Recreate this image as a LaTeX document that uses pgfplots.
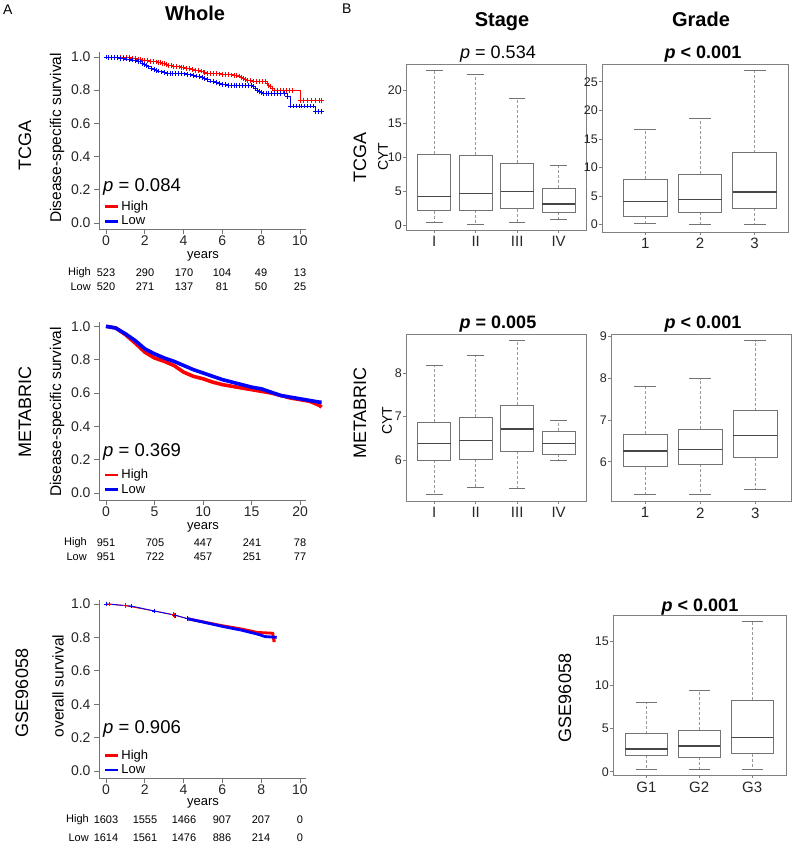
\documentclass[border=0pt]{standalone}
\usepackage{fontspec}
\setmainfont{Liberation Sans}
\usepackage{pgfplots}
\pgfplotsset{compat=1.18}
\usepgfplotslibrary{statistics}
\newcommand{\fs}[1]{\fontsize{#1}{#1}\selectfont}
\definecolor{kmred}{RGB}{255,0,0}
\definecolor{kmblue}{RGB}{0,0,255}
\pgfplotsset{
 km/.style={scale only axis, anchor=south west, axis lines*=left,
  axis line style={-, draw=black!55, line width=0.8pt},
  tick align=outside, major tick length=5pt, tick style={draw=black!55, line width=0.8pt},
  ytick={0,0.2,0.4,0.6,0.8,1.0},
  yticklabel style={/pgf/number format/.cd, fixed, fixed zerofill, precision=1},
  /pgf/number format/assume math mode=true,
  ticklabel style={font=\fs{14}, text=black!85},
  xticklabel style={yshift=2pt},
  clip=false, width=207pt,
  legend style={draw=none, fill=none, font=\fs{13}, anchor=north west, inner sep=0pt, cells={anchor=west}},
  legend image code/.code={\draw[##1, line width=2.6pt] (0pt,0pt) -- (13pt,0pt);},
 },
 bx/.style={scale only axis, anchor=south west,
  axis line style={draw=black!50, line width=0.8pt},
  tick align=outside, major tick length=3pt, tick style={draw=black!50, line width=0.6pt}, tick pos=left,
  yticklabel style={font=\fs{12.5}, inner sep=1pt, text=black!85},
  xticklabel style={font=\fs{15}, text=black!85},
  /pgf/number format/assume math mode=true,
  clip=false,
  boxplot/draw direction=y,
  boxplot/box extend=0.8, boxplot/whisker extend=0.4,
  boxplot/draw/median/.code={
   \draw[draw=black!72, line width=1.4pt] (boxplot box cs:\pgfplotsboxplotvalue{median},0) -- (boxplot box cs:\pgfplotsboxplotvalue{median},1);
  },
  boxplot/draw/lower whisker/.code={
   \draw[densely dashed, draw=black!40, line width=0.6pt] (boxplot box cs:\pgfplotsboxplotvalue{lower quartile},0.5) -- (boxplot box cs:\pgfplotsboxplotvalue{lower whisker},0.5);
   \draw[draw=black!55, line width=0.7pt] (boxplot whisker cs:\pgfplotsboxplotvalue{lower whisker},0) -- (boxplot whisker cs:\pgfplotsboxplotvalue{lower whisker},1);
  },
  boxplot/draw/upper whisker/.code={
   \draw[densely dashed, draw=black!40, line width=0.6pt] (boxplot box cs:\pgfplotsboxplotvalue{upper quartile},0.5) -- (boxplot box cs:\pgfplotsboxplotvalue{upper whisker},0.5);
   \draw[draw=black!55, line width=0.7pt] (boxplot whisker cs:\pgfplotsboxplotvalue{upper whisker},0) -- (boxplot whisker cs:\pgfplotsboxplotvalue{upper whisker},1);
  },
 },
 bp/.style={draw=black!55, line width=0.7pt, solid},
 kmthin/.style={const plot, color=#1, line width=0.9pt, mark=+, mark size=2.4pt, mark options={solid, line width=0.9pt, draw=#1, color=#1}, forget plot},
 kmsmooth/.style={sharp plot, color=#1, line width=0.9pt, mark=+, mark size=2.4pt, mark options={solid, line width=0.9pt, draw=#1, color=#1}, forget plot},
}
\begin{document}
\begin{tikzpicture}
\path[use as bounding box] (0pt,0pt) rectangle (793pt,850pt);

% ---------------- A: TCGA KM ----------------
\begin{axis}[km, at={(99pt,621pt)}, height=177pt,
  xmin=-0.36, xmax=10.31, ymin=-0.036, ymax=1.03, xtick={0,2,4,6,8,10},
  legend style={at={(axis cs:-0.12,0.145)}}]
\addplot[kmthin=kmred] coordinates {(0,1)(0.15,1)(0.3,1)(0.45,1)(0.6,1)(0.75,0.998)(0.9,0.995)(1.05,0.995)(1.2,0.995)(1.35,0.992)(1.5,0.99)(1.65,0.988)(1.8,0.985)(1.9,0.982)(2.0,0.98)(2.15,0.978)(2.3,0.975)(2.45,0.972)(2.6,0.97)(2.7,0.968)(2.8,0.965)(2.9,0.962)(3.0,0.96)(3.1,0.955)(3.2,0.95)(3.35,0.948)(3.5,0.945)(3.65,0.942)(3.8,0.94)(3.9,0.938)(4.0,0.935)(4.15,0.932)(4.3,0.93)(4.45,0.925)(4.6,0.92)(4.75,0.918)(4.9,0.915)(5.0,0.91)(5.1,0.905)(5.25,0.902)(5.4,0.9)(5.55,0.9)(5.7,0.9)(5.85,0.898)(6.0,0.895)(6.15,0.895)(6.3,0.895)(6.45,0.892)(6.6,0.89)(6.75,0.888)(6.9,0.885)(7.0,0.878)(7.1,0.87)(7.2,0.865)(7.3,0.86)(7.45,0.858)(7.6,0.855)(7.75,0.852)(7.9,0.85)(8.05,0.85)(8.2,0.85)(8.3,0.84)(8.4,0.83)(8.5,0.82)(8.6,0.81)(8.7,0.80)(8.85,0.80)(9.0,0.80)(9.15,0.80)(9.3,0.80)(9.45,0.80)(9.6,0.80)(10.0,0.74)(10.2,0.74)(10.4,0.74)(10.6,0.74)(10.8,0.74)(11.0,0.74)(11.1,0.74)};
\addplot[kmthin=kmblue] coordinates {(0,1)(0.15,0.998)(0.3,0.995)(0.45,0.995)(0.6,0.995)(0.75,0.992)(0.9,0.99)(1.05,0.988)(1.2,0.985)(1.35,0.982)(1.5,0.98)(1.65,0.975)(1.8,0.97)(1.9,0.962)(2.0,0.955)(2.1,0.948)(2.2,0.94)(2.35,0.932)(2.5,0.925)(2.6,0.92)(2.7,0.915)(2.85,0.91)(3.0,0.905)(3.15,0.902)(3.3,0.9)(3.45,0.9)(3.6,0.9)(3.75,0.9)(3.9,0.9)(4.05,0.898)(4.2,0.895)(4.35,0.892)(4.5,0.89)(4.65,0.885)(4.8,0.88)(4.95,0.875)(5.1,0.87)(5.25,0.862)(5.4,0.855)(5.55,0.85)(5.7,0.845)(5.85,0.84)(6.0,0.835)(6.15,0.832)(6.3,0.83)(6.45,0.83)(6.6,0.83)(6.75,0.83)(6.9,0.83)(7.05,0.83)(7.2,0.83)(7.35,0.83)(7.5,0.83)(7.6,0.82)(7.7,0.81)(7.8,0.80)(7.9,0.79)(8.0,0.785)(8.1,0.78)(8.25,0.78)(8.4,0.78)(8.55,0.78)(8.7,0.78)(8.85,0.78)(9.0,0.78)(9.2,0.78)(9.35,0.76)(9.5,0.705)(9.65,0.705)(9.8,0.705)(9.95,0.705)(10.1,0.705)(10.25,0.705)(10.4,0.705)(10.55,0.705)(10.7,0.705)(10.8,0.67)(10.95,0.67)(11.1,0.67)};
\addlegendimage{kmred}\addlegendentry{High}
\addlegendimage{kmblue}\addlegendentry{Low}
\end{axis}

% ---------------- A: METABRIC KM ----------------
\begin{axis}[km, at={(99pt,350pt)}, height=178pt,
  xmin=-0.72, xmax=20.6, ymin=-0.042, ymax=1.026, xtick={0,5,10,15,20},
  legend style={at={(axis cs:-0.25,0.155)}}]
\addplot[kmred, line width=3.6pt, forget plot] coordinates {(0,1)(1,0.99)(2,0.95)(3,0.90)(4,0.845)(5,0.81)(6,0.79)(7,0.765)(8,0.725)(9,0.70)(10,0.685)(11,0.665)(12,0.65)(13,0.64)(14,0.63)(15,0.62)(16,0.61)(17,0.60)(18,0.585)(19,0.57)(20,0.56)(21,0.55)(22,0.525)(22.2,0.515)};
\addplot[kmblue, line width=3.6pt, forget plot] coordinates {(0,1)(1,0.99)(2,0.955)(3,0.915)(4,0.865)(5,0.835)(6,0.81)(7,0.79)(8,0.765)(9,0.74)(10,0.72)(11,0.70)(12,0.68)(13,0.665)(14,0.65)(15,0.635)(16,0.625)(17,0.605)(18,0.585)(19,0.575)(20,0.565)(21,0.555)(22,0.545)(22.2,0.545)};
\addlegendimage{kmred}\addlegendentry{High}
\addlegendimage{kmblue}\addlegendentry{Low}
\end{axis}

% ---------------- A: GSE96058 KM ----------------
\begin{axis}[km, at={(99pt,72pt)}, height=178pt,
  xmin=-0.36, xmax=10.31, ymin=-0.042, ymax=1.024, xtick={0,2,4,6,8,10},
  legend style={at={(axis cs:-0.12,0.14)}}]
\addplot[kmsmooth=kmred] coordinates {(0,1)(0.2,1.0)(1.0,0.99)(2.5,0.958)(3.5,0.935)(3.55,0.933)(4.2,0.912)};
\addplot[kmred, line width=2.8pt, forget plot] coordinates {(4.2,0.912)(5,0.893)(6,0.87)(7,0.85)(7.8,0.83)(8.6,0.825)(8.65,0.78)(8.75,0.78)};
\addplot[kmsmooth=kmblue] coordinates {(0,1)(1.3,0.988)(2.5,0.958)(3.6,0.932)(4.2,0.912)};
\addplot[kmblue, line width=2.8pt, forget plot] coordinates {(4.2,0.912)(5,0.892)(6,0.866)(7,0.843)(7.8,0.82)(8.2,0.805)(8.8,0.80)};
\addlegendimage{kmred}\addlegendentry{High}
\addlegendimage{kmblue}\addlegendentry{Low}
\end{axis}

% ---------------- B: TCGA Stage ----------------
\begin{axis}[bx, at={(406pt,620pt)}, width=180pt, height=166pt,
  xmin=0.32, xmax=4.66, ymin=-0.74, ymax=23.85,
  xtick={1,2,3,4}, xticklabels={I,II,III,IV}, ytick={0,5,10,15,20}]
\addplot[bp, boxplot prepared={draw position=1, median=4.2, upper quartile=10.5, lower quartile=2.1, upper whisker=22.9, lower whisker=0.4}] coordinates {};
\addplot[bp, boxplot prepared={draw position=2, median=4.7, upper quartile=10.3, lower quartile=2.2, upper whisker=22.3, lower whisker=0.15}] coordinates {};
\addplot[bp, boxplot prepared={draw position=3, median=5.0, upper quartile=9.2, lower quartile=2.4, upper whisker=18.7, lower whisker=0.45}] coordinates {};
\addplot[bp, boxplot prepared={draw position=4, median=3.1, upper quartile=5.5, lower quartile=1.9, upper whisker=8.9, lower whisker=0.8}] coordinates {};
\end{axis}

% ---------------- B: TCGA Grade ----------------
\begin{axis}[bx, at={(602pt,618pt)}, width=186pt, height=168pt,
  xmin=0.21, xmax=3.61, ymin=-1.29, ymax=28.1,
  xtick={1,2,3}, xticklabels={1,2,3}, ytick={0,5,10,15,20,25}]
\addplot[bp, boxplot prepared={draw position=1, median=4.0, upper quartile=8.0, lower quartile=1.5, upper whisker=16.7, lower whisker=0.25}] coordinates {};
\addplot[bp, boxplot prepared={draw position=2, median=4.4, upper quartile=8.8, lower quartile=2.2, upper whisker=18.6, lower whisker=0.05}] coordinates {};
\addplot[bp, boxplot prepared={draw position=3, median=5.7, upper quartile=12.6, lower quartile=2.9, upper whisker=26.9, lower whisker=0.0}] coordinates {};
\end{axis}

% ---------------- B: METABRIC Stage ----------------
\begin{axis}[bx, at={(406pt,349pt)}, width=180pt, height=167pt,
  xmin=0.32, xmax=4.66, ymin=5.06, ymax=8.9,
  xtick={1,2,3,4}, xticklabels={I,II,III,IV}, ytick={6,7,8}]
\addplot[bp, boxplot prepared={draw position=1, median=6.38, upper quartile=6.87, lower quartile=6.0, upper whisker=8.18, lower whisker=5.22}] coordinates {};
\addplot[bp, boxplot prepared={draw position=2, median=6.45, upper quartile=6.99, lower quartile=6.02, upper whisker=8.42, lower whisker=5.38}] coordinates {};
\addplot[bp, boxplot prepared={draw position=3, median=6.72, upper quartile=7.26, lower quartile=6.2, upper whisker=8.75, lower whisker=5.34}] coordinates {};
\addplot[bp, boxplot prepared={draw position=4, median=6.38, upper quartile=6.67, lower quartile=6.14, upper whisker=6.92, lower whisker=5.99}] coordinates {};
\end{axis}

% ---------------- B: METABRIC Grade ----------------
\begin{axis}[bx, at={(611pt,349pt)}, width=180pt, height=167pt,
  xmin=0.38, xmax=3.65, ymin=5.06, ymax=9.06,
  xtick={1,2,3}, xticklabels={1,2,3}, ytick={6,7,8,9}]
\addplot[bp, boxplot prepared={draw position=1, median=6.26, upper quartile=6.66, lower quartile=5.88, upper whisker=7.8, lower whisker=5.22}] coordinates {};
\addplot[bp, boxplot prepared={draw position=2, median=6.3, upper quartile=6.78, lower quartile=5.94, upper whisker=7.99, lower whisker=5.22}] coordinates {};
\addplot[bp, boxplot prepared={draw position=3, median=6.63, upper quartile=7.22, lower quartile=6.1, upper whisker=8.9, lower whisker=5.34}] coordinates {};
\end{axis}

% ---------------- B: GSE96058 Grade ----------------
\begin{axis}[bx, at={(613pt,75pt)}, width=173pt, height=160pt,
  xmin=0.37, xmax=3.64, ymin=-0.38, ymax=18.08,
  xtick={1,2,3}, xticklabels={G1,G2,G3}, ytick={0,5,10,15}]
\addplot[bp, boxplot prepared={draw position=1, median=2.62, upper quartile=4.38, lower quartile=1.92, upper whisker=8.04, lower whisker=0.27}] coordinates {};
\addplot[bp, boxplot prepared={draw position=2, median=2.96, upper quartile=4.77, lower quartile=1.65, upper whisker=9.38, lower whisker=0.27}] coordinates {};
\addplot[bp, boxplot prepared={draw position=3, median=3.96, upper quartile=8.23, lower quartile=2.08, upper whisker=17.4, lower whisker=0.27}] coordinates {};
\end{axis}

% ---------------- text (pixel coordinates, y downward) ----------------
\begin{scope}[x=1pt, y=-1pt, shift={(0pt,850pt)}]
\node[anchor=base west, font=\fs{14}, inner sep=0pt] at (3,15) {A};
\node[anchor=base, font=\bfseries\fs{20}, inner sep=0pt] at (195,21) {Whole};
% TCGA KM
\node[rotate=90, font=\fs{18}] at (25,146) {TCGA};
\node[rotate=90, font=\fs{15.5}] at (57,138) {Disease-specific survival};
\node[anchor=base west, font=\fs{18.5}, inner sep=0pt] at (103,192) {\textit{p} = 0.084};
\node[font=\fs{13}, inner sep=0pt] at (203,256) {years};
\node[anchor=east, font=\fs{11}, inner sep=0pt] at (91,273) {High};
\node[anchor=east, font=\fs{11}, inner sep=0pt] at (91,287) {Low};
\foreach \x/\v in {106/523,145/290,184/170,222/104,261/49,300/13} \node[font=\fs{11}] at (\x,273) {\v};
\foreach \x/\v in {106/520,145/271,184/137,222/81,261/50,300/25} \node[font=\fs{11}] at (\x,287) {\v};
% METABRIC KM
\node[rotate=90, font=\fs{18}] at (25,412) {METABRIC};
\node[rotate=90, font=\fs{15.5}] at (57,412) {Disease-specific survival};
\node[anchor=base west, font=\fs{18.5}, inner sep=0pt] at (103,457) {\textit{p} = 0.369};
\node[font=\fs{13}, inner sep=0pt] at (203,527) {years};
\node[anchor=east, font=\fs{11}, inner sep=0pt] at (87,543) {High};
\node[anchor=east, font=\fs{11}, inner sep=0pt] at (87,557) {Low};
\foreach \x/\v in {106/951,155/705,203/447,252/241,300/78} \node[font=\fs{11}] at (\x,543) {\v};
\foreach \x/\v in {106/951,155/722,203/457,252/251,300/77} \node[font=\fs{11}] at (\x,557) {\v};
% GSE KM
\node[rotate=90, font=\fs{18}] at (22,693) {GSE96058};
\node[rotate=90, font=\fs{15.5}] at (58,686) {overall survival};
\node[anchor=base west, font=\fs{18.5}, inner sep=0pt] at (103,734) {\textit{p} = 0.906};
\node[font=\fs{13}, inner sep=0pt] at (203,803) {years};
\node[anchor=east, font=\fs{11}, inner sep=0pt] at (89,820) {High};
\node[anchor=east, font=\fs{11}, inner sep=0pt] at (89,838) {Low};
\foreach \x/\v in {106/1603,145/1555,184/1466,222/907,261/207,300/0} \node[font=\fs{11}] at (\x,820) {\v};
\foreach \x/\v in {106/1614,145/1561,184/1476,222/886,261/214,300/0} \node[font=\fs{11}] at (\x,838) {\v};
% B
\node[anchor=base west, font=\fs{14}, inner sep=0pt] at (342,14) {B};
\node[anchor=base, font=\bfseries\fs{20}, inner sep=0pt] at (502,27) {Stage};
\node[anchor=base, font=\bfseries\fs{20}, inner sep=0pt] at (701,27) {Grade};
\node[anchor=base, font=\fs{18}, inner sep=0pt] at (498,59) {\textit{p} = 0.534};
\node[anchor=base, font=\bfseries\fs{18}, inner sep=0pt] at (703,59) {\textit{p} < 0.001};
\node[rotate=90, font=\fs{18}] at (360,158) {TCGA};
\node[rotate=90, font=\fs{14}] at (383,157) {CYT};
\node[anchor=base, font=\bfseries\fs{18}, inner sep=0pt] at (498,329) {\textit{p} = 0.005};
\node[anchor=base, font=\bfseries\fs{18}, inner sep=0pt] at (703,329) {\textit{p} < 0.001};
\node[rotate=90, font=\fs{18}] at (360,413) {METABRIC};
\node[rotate=90, font=\fs{14}] at (387,421) {CYT};
\node[anchor=base, font=\bfseries\fs{18}, inner sep=0pt] at (700,612) {\textit{p} < 0.001};
\node[rotate=90, font=\fs{18}] at (565,698) {GSE96058};
\end{scope}
\end{tikzpicture}
\end{document}
